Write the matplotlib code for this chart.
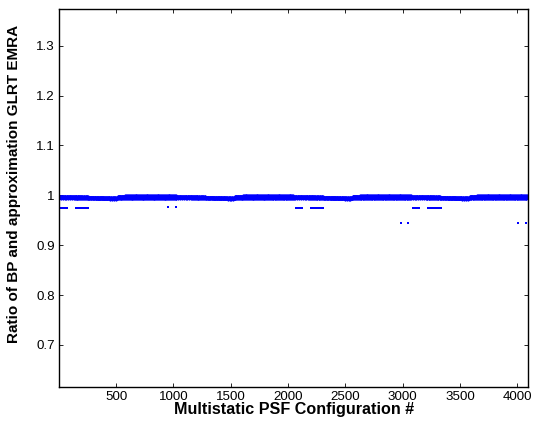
import numpy as np
import matplotlib
matplotlib.use("Agg")
import matplotlib.pyplot as plt

plt.rcParams['font.family'] = ['Liberation Sans', 'DejaVu Sans']

# ---- data ----
n_configs = 4096
block_len = 1024
# mean ratio level for each 64-config sub-segment of a 1024-config block
block_levels = [0.9962, 0.9960, 0.9958, 0.9955, 0.9950, 0.9945, 0.9940, 0.9938,
                0.9962, 0.9965, 0.9965, 0.9965, 0.9965, 0.9965, 0.9965, 0.9965]
# spread of the points around the level for each sub-segment
block_spread = [0.0025, 0.0025, 0.0025, 0.0025, 0.0022, 0.0022, 0.0022, 0.0022,
                0.0035, 0.0035, 0.0035, 0.0035, 0.0035, 0.0035, 0.0035, 0.0035]
# repeating texture inside a sub-segment (fraction of the spread)
texture = [-1.0, 0.2, 0.8, -0.4, 1.0, -0.7, 0.4, -0.2,
           0.9, -0.9, 0.1, 0.6, -0.5, 1.0, -0.1, 0.3]

# isolated low ratios: (first config, last config, ratio)
outlier_start = [22, 150, 950, 1018, 2072, 2200, 2986, 3046, 3094, 3223, 4008, 4076]
outlier_end   = [68, 255, 953, 1021, 2123, 2306, 2989, 3049, 3142, 3336, 4011, 4079]
outlier_value = [0.975, 0.975, 0.977, 0.977, 0.975, 0.975, 0.945, 0.945, 0.975, 0.975, 0.945, 0.945]

# ---- build the series from the read values ----
seg_len = block_len // len(block_levels)
lvl = np.repeat(block_levels, seg_len)
spr = np.repeat(block_spread, seg_len)
tex = np.resize(texture, block_len)
block = lvl + spr * tex
ratio = np.tile(block, n_configs // block_len)
config = np.arange(1, n_configs + 1)

out_x, out_y = [], []
for s, e, v in zip(outlier_start, outlier_end, outlier_value):
    xs = np.arange(s, e + 1, 3)
    out_x.extend(xs)
    out_y.extend([v] * len(xs))

# ---- figure ----
fig = plt.figure(figsize=(5.35, 4.25), dpi=100)
ax = fig.add_axes([0.1103, 0.0894, 0.877, 0.8894])
ax.plot(config, ratio, linestyle='none', marker='.', markersize=3.2,
        color='#0000ff', markeredgewidth=0)
ax.plot(out_x, out_y, linestyle='none', marker='s', markersize=1.6,
        color='#0000ff', markeredgewidth=0)

ax.set_xlim(1, 4096)
ax.set_ylim(0.6157, 1.3737)
ax.set_xticks([500, 1000, 1500, 2000, 2500, 3000, 3500, 4000])
ax.set_yticks([0.7, 0.8, 0.9, 1.0, 1.1, 1.2, 1.3])
ax.set_yticklabels(['0.7', '0.8', '0.9', '1', '1.1', '1.2', '1.3'])
ax.tick_params(direction='in', top=True, right=True, length=3, width=0.6,
               labelsize=9.6, pad=3)
for sp in ax.spines.values():
    sp.set_linewidth(1.0)

ax.set_xlabel('Multistatic PSF Configuration #', fontsize=11.6, fontweight='bold',
              labelpad=-1)
ax.set_ylabel('Ratio of BP and approximation GLRT EMRA', fontsize=11.0,
              fontweight='bold', labelpad=4)
ax.yaxis.set_label_coords(-0.082, 0.537)

fig.savefig('out.png', dpi=100)
